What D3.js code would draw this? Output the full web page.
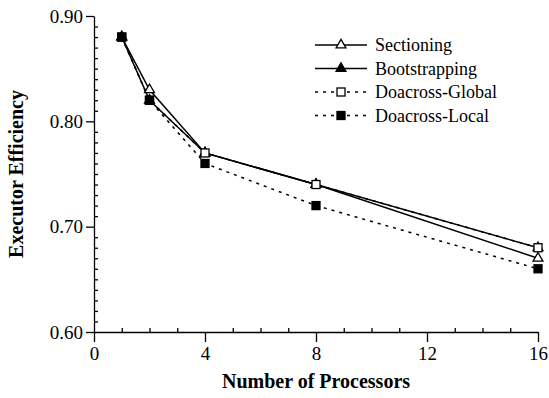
<!DOCTYPE html>
<html><head><meta charset="utf-8">
<script src="https://cdn.jsdelivr.net/npm/d3@7"></script>
<style>
body{margin:0;background:#fff;}
svg text{font-family:"Liberation Serif","Times New Roman",serif;fill:#000;}
</style></head>
<body><svg id="c" width="549" height="398"></svg>
<script>
const processors = [1, 2, 4, 8, 16];
const sectioning = [0.88, 0.83, 0.77, 0.74, 0.67];
const bootstrapping = [0.88, 0.82, 0.77, 0.74, 0.68];
const doacrossGlobal = [0.88, 0.82, 0.77, 0.74, 0.68];
const doacrossLocal = [0.88, 0.82, 0.76, 0.72, 0.66];
const seriesNames = ["Sectioning", "Bootstrapping", "Doacross-Global", "Doacross-Local"];
const xTicks = [0, 4, 8, 12, 16];
const yTicks = [0.60, 0.70, 0.80, 0.90];
const xTitle = "Number of Processors";
const yTitle = "Executor Efficiency";

const svg = d3.select("#c");
const x = d3.scaleLinear().domain([0, 16]).range([94, 538]);
const y = d3.scaleLinear().domain([0.60, 0.90]).range([332, 16]);

const series = [
  {name: seriesNames[0], vals: sectioning, dash: null, shape: "tri", fill: "#fff"},
  {name: seriesNames[1], vals: bootstrapping, dash: null, shape: "tri", fill: "#000"},
  {name: seriesNames[2], vals: doacrossGlobal, dash: "3,5", shape: "sq", fill: "#fff"},
  {name: seriesNames[3], vals: doacrossLocal, dash: "3,5", shape: "sq", fill: "#000"}
];

// axes
const minorX = d3.range(0, 17, 1).filter(v => v % 4 !== 0);
const minorY = d3.range(61, 90, 1).filter(v => v % 10 !== 0).map(v => v / 100);

const gx = svg.append("g").attr("transform", `translate(0,${y(0.60)})`);
gx.call(d3.axisBottom(x).tickValues(xTicks).tickSize(10).tickSizeOuter(0).tickPadding(4).tickFormat(d3.format("d")));
const gxm = svg.append("g").attr("transform", `translate(0,${y(0.60)})`);
gxm.call(d3.axisBottom(x).tickValues(minorX).tickSize(-4).tickSizeOuter(0).tickFormat(""));
gxm.select(".domain").remove();

const gy = svg.append("g").attr("transform", `translate(${x(0)},0)`);
gy.call(d3.axisLeft(y).tickValues(yTicks).tickSize(8).tickSizeOuter(0).tickPadding(3).tickFormat(d3.format(".2f")));
const gym = svg.append("g").attr("transform", `translate(${x(0)},0)`);
gym.call(d3.axisLeft(y).tickValues(minorY).tickSize(-4).tickSizeOuter(0).tickFormat(""));
gym.select(".domain").remove();

svg.selectAll(".domain, .tick line").attr("stroke", "#000").attr("stroke-width", 1.3);
svg.selectAll(".tick text").attr("font-size", 19).attr("font-family", "Liberation Serif").attr("fill", "#000");
gx.selectAll(".tick text").attr("dy", "0.75em");

// titles
svg.append("text").attr("x", (x(0) + x(16)) / 2).attr("y", 388).attr("text-anchor", "middle")
  .attr("font-size", 20).attr("font-weight", "bold").attr("fill", "#000").text(xTitle);
svg.append("text").attr("transform", `translate(23,${(y(0.6) + y(0.9)) / 2}) rotate(-90)`)
  .attr("text-anchor", "middle").attr("font-size", 20).attr("font-weight", "bold").attr("fill", "#000").text(yTitle);

// lines
const line = d3.line().x((d, i) => x(processors[i])).y(d => y(d));
const lineOrder = [2, 3, 0, 1];
lineOrder.forEach(k => {
  const s = series[k];
  svg.append("path").attr("d", line(s.vals)).attr("fill", "none").attr("stroke", "#000")
    .attr("stroke-width", 1.5).attr("stroke-dasharray", s.dash);
});

function marker(g, shape, fill, cx, cy) {
  if (shape === "tri") {
    g.append("path").attr("d", d3.symbol(d3.symbolTriangle, 42)())
      .attr("transform", `translate(${cx},${cy})`).attr("fill", fill).attr("stroke", "#000").attr("stroke-width", 1.3);
  } else {
    g.append("rect").attr("x", cx - 4).attr("y", cy - 4).attr("width", 8).attr("height", 8)
      .attr("fill", fill).attr("stroke", "#000").attr("stroke-width", 1.3);
  }
}
[0, 1, 2, 3].forEach(k => {
  const s = series[k];
  const g = svg.append("g");
  s.vals.forEach((v, i) => marker(g, s.shape, s.fill, x(processors[i]), y(v)));
});

// legend
const legY = [45, 68.5, 92, 115.5];
series.forEach((s, k) => {
  const g = svg.append("g");
  g.append("line").attr("x1", 315).attr("x2", 367).attr("y1", legY[k]).attr("y2", legY[k])
    .attr("stroke", "#000").attr("stroke-width", 1.5).attr("stroke-dasharray", s.dash);
  marker(g, s.shape, s.fill, 341, legY[k]);
  g.append("text").attr("x", 375).attr("y", legY[k]).attr("dy", "0.35em").attr("font-size", 18).attr("fill", "#000").text(s.name);
});
</script></body></html>
